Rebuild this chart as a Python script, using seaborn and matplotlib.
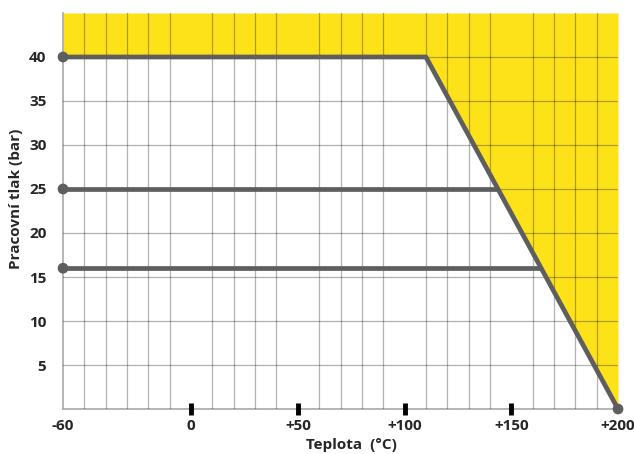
import matplotlib
matplotlib.use("Agg")
import matplotlib.pyplot as plt
import numpy as np
import pandas as pd
import seaborn as sns

# limit curve (max working pressure vs temperature)
limit_temp = [-60, 110, 200]
limit_press = [40, 40, 0]

# pressure class lines
pn25_temp = [-60, 144]
pn25_press = [25, 25]
pn16_temp = [-60, 164]
pn16_press = [16, 16]

# end points with dots
dot_temp = [-60, -60, -60, 200]
dot_press = [40, 25, 16, 0]

x_ticks = [-60, 0, 50, 100, 150, 200]
x_labels = ["-60", "0", "+50", "+100", "+150", "+200"]
y_ticks = [5, 10, 15, 20, 25, 30, 35, 40]

YELLOW = "#fde21a"
LINE = "#5e5e5e"

sns.set_theme(style="white")
plt.rcParams["font.family"] = ["Open Sans", "DejaVu Sans"]

fig = plt.figure(figsize=(6.34, 4.54), dpi=100)
ax = fig.add_axes([0.0994, 0.0991, 0.8754, 0.8723])

ax.fill_between(limit_temp, limit_press, 45, color=YELLOW, lw=0, zorder=1)

for tx, py in [(limit_temp, limit_press), (pn25_temp, pn25_press), (pn16_temp, pn16_press)]:
    sns.lineplot(x=tx, y=py, ax=ax, color=LINE, lw=3.4, zorder=3,
                 solid_capstyle="butt", estimator=None, sort=False)
sns.scatterplot(x=dot_temp, y=dot_press, ax=ax, color=LINE, s=60,
                edgecolor="none", zorder=4, clip_on=False)

ax.set_xlim(-60, 200)
ax.set_ylim(0, 45)

ax.set_xticks(x_ticks)
ax.set_xticklabels(x_labels, fontweight="bold", fontsize=11)
ax.set_xticks(np.arange(-60, 201, 10), minor=True)
ax.set_yticks(y_ticks)
ax.set_yticklabels([str(v) for v in y_ticks], fontweight="bold", fontsize=11)

ax.set_axisbelow("line")
ax.grid(True, which="minor", axis="x", color="black", alpha=0.3, lw=0.9)
ax.grid(True, which="major", axis="y", color="black", alpha=0.3, lw=0.9)
ax.grid(False, which="major", axis="x")

ax.tick_params(axis="x", which="major", bottom=True, direction="inout", length=9,
               width=3.5, color="black", pad=3)
ax.tick_params(axis="x", which="minor", bottom=False, length=0)
ax.tick_params(axis="y", left=False, length=0, pad=12)
for t, lab in zip(ax.xaxis.get_major_ticks(), x_labels):
    if lab in ("-60", "+200"):
        t.tick1line.set_visible(False)

for side in ["left", "bottom"]:
    ax.spines[side].set_color("#a8a8a8")
    ax.spines[side].set_linewidth(1.2)
    ax.spines[side].set_zorder(1.2)
for side in ["top", "right"]:
    ax.spines[side].set_visible(False)

ax.set_xlabel("Teplota  (°C)", fontweight="bold", fontsize=11)
ax.xaxis.set_label_coords(0.52, -0.072)
ax.set_ylabel("Pracovní tlak (bar)", fontweight="bold", fontsize=11)
ax.yaxis.set_label_coords(-0.072, 0.53)

fig.savefig("out.png", dpi=100)
